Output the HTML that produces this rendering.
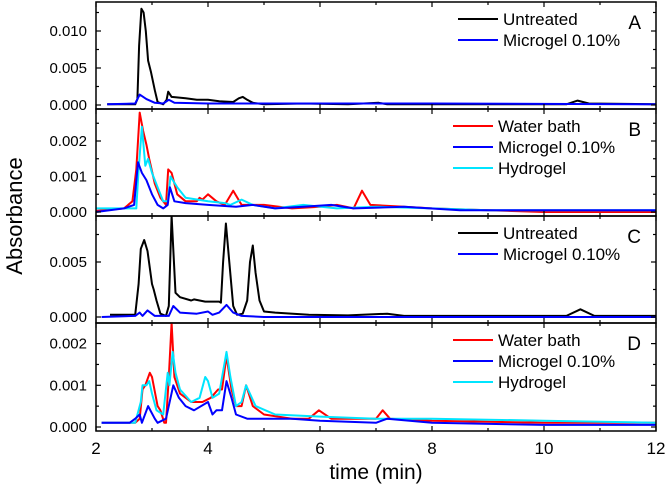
<!DOCTYPE html>
<html><head><meta charset="utf-8"><style>
body{margin:0;background:#fff;font-family:"Liberation Sans",Arial,sans-serif}
svg text{font-family:"Liberation Sans",Arial,sans-serif}
</style></head><body>
<svg id="c" width="666" height="488" viewBox="0 0 666 488"></svg>
<script>
const xTicks=[2,4,6,8,10,12];
const aUntreated=[[2.2,0.0001],[2.7,0.0001],[2.74,0.0008],[2.77,0.008],[2.81,0.013],[2.85,0.0125],[2.89,0.010],[2.93,0.006],[2.98,0.0045],[3.05,0.002],[3.1,0.0004],[3.2,0.0001],[3.26,0.0007],[3.29,0.0018],[3.35,0.0011],[3.6,0.0009],[3.8,0.0007],[4.0,0.0007],[4.2,0.0005],[4.45,0.0004],[4.55,0.0009],[4.62,0.0011],[4.7,0.0007],[4.8,0.0003],[5.0,0.0001],[5.7,0.0002],[6.5,0.0001],[7.05,0.0003],[7.2,0.0001],[10.4,0.0001],[10.6,0.0006],[10.8,0.0002],[12,0.0001]];
const aMicrogel=[[2.2,0.0001],[2.7,0.0002],[2.78,0.0014],[2.9,0.0008],[3.05,0.0003],[3.2,0.0002],[3.3,0.0007],[3.4,0.0003],[4.0,0.0002],[8,0.0002],[12,0.0001]];
const bWater=[[2,0.00003],[2.5,0.0001],[2.65,0.0003],[2.72,0.0012],[2.78,0.0028],[2.84,0.0023],[2.9,0.0019],[2.95,0.0015],[3.05,0.0008],[3.15,0.0004],[3.25,0.0002],[3.29,0.0012],[3.35,0.0011],[3.45,0.0005],[3.6,0.0003],[3.8,0.0003],[3.85,0.0004],[3.9,0.00035],[4.0,0.0005],[4.15,0.0003],[4.3,0.0002],[4.45,0.0006],[4.6,0.0002],[5.0,0.0002],[5.5,0.0001],[6.0,0.00015],[6.3,0.0002],[6.6,0.0001],[6.75,0.0006],[6.9,0.0002],[7.5,0.00015],[8,0.0001],[9,0.00005],[10,0.0],[12,0.0]];
const bMicrogel=[[2,0.0],[2.5,0.0001],[2.68,0.0002],[2.75,0.0014],[2.82,0.0011],[2.9,0.0009],[3.0,0.0005],[3.1,0.0002],[3.2,0.0001],[3.28,0.0002],[3.32,0.0007],[3.4,0.0003],[3.6,0.00025],[4.0,0.0002],[4.5,0.00015],[4.8,0.0002],[5.2,0.0001],[5.7,0.00015],[6.2,0.0002],[6.6,0.0001],[7.5,0.00015],[8.5,0.00005],[12,0.00005]];
const bHydrogel=[[2,0.0001],[2.6,0.0001],[2.72,0.0001],[2.76,0.0012],[2.82,0.0024],[2.88,0.0013],[2.93,0.0015],[3.0,0.0011],[3.1,0.0007],[3.2,0.0003],[3.28,0.0003],[3.33,0.0010],[3.45,0.0007],[3.6,0.0004],[4.0,0.0003],[4.3,0.00025],[4.4,0.0002],[4.6,0.00035],[4.8,0.0002],[5.2,0.0001],[5.7,0.0002],[6.3,0.0001],[7,0.00015],[8,0.0001],[9,0.00005],[12,0.00005]];
const cUntreated=[[2.25,0.0002],[2.7,0.0002],[2.76,0.003],[2.8,0.0062],[2.86,0.0070],[2.92,0.006],[3.0,0.003],[3.03,0.0025],[3.08,0.0015],[3.15,0.0003],[3.25,0.0001],[3.3,0.001],[3.35,0.0092],[3.42,0.0022],[3.5,0.0018],[3.7,0.0015],[3.75,0.0016],[3.95,0.0014],[4.2,0.0014],[4.23,0.0013],[4.27,0.005],[4.32,0.0085],[4.38,0.0050],[4.45,0.0010],[4.52,0.0002],[4.62,0.0003],[4.7,0.0015],[4.75,0.005],[4.8,0.0065],[4.85,0.004],[4.92,0.0015],[5.0,0.0005],[5.2,0.0004],[5.8,0.0002],[6.5,0.00015],[7.2,0.0003],[7.5,0.0001],[10.4,0.0001],[10.65,0.0007],[10.9,0.0001],[12,0.0001]];
const cMicrogel=[[2.1,0.0],[2.7,0.0001],[2.78,0.0004],[2.83,0.0001],[2.92,0.0006],[3.05,0.0001],[3.3,0.0001],[3.38,0.0010],[3.5,0.0004],[3.8,0.0003],[4.0,0.0005],[4.08,0.0002],[4.2,0.0004],[4.33,0.0011],[4.45,0.0004],[4.6,0.0001],[5,0.0],[12,0.0]];
const dWater=[[2.1,0.0001],[2.7,0.0001],[2.78,0.0002],[2.83,0.0009],[2.88,0.0010],[2.96,0.0013],[3.0,0.0012],[3.1,0.0005],[3.15,0.0004],[3.22,0.0001],[3.25,0.0001],[3.3,0.0012],[3.35,0.0025],[3.4,0.0012],[3.5,0.0008],[3.7,0.0006],[3.9,0.0006],[4.05,0.0007],[4.18,0.0009],[4.25,0.0009],[4.33,0.0017],[4.42,0.0009],[4.5,0.0005],[4.6,0.0005],[4.68,0.0010],[4.8,0.0005],[5.0,0.0003],[5.5,0.0002],[5.8,0.0002],[5.98,0.0004],[6.2,0.0002],[6.8,0.0002],[7.0,0.0002],[7.12,0.0004],[7.25,0.0002],[8,0.00015],[10,0.0001],[12,0.0001]];
const dMicrogel=[[2.1,0.0001],[2.6,0.0001],[2.7,0.0002],[2.78,0.0003],[2.82,0.0001],[2.93,0.0005],[3.05,0.0002],[3.1,0.0001],[3.25,0.0002],[3.38,0.0010],[3.48,0.0007],[3.6,0.0005],[3.75,0.0004],[4.0,0.0006],[4.08,0.0003],[4.15,0.0004],[4.25,0.0004],[4.33,0.0011],[4.42,0.0007],[4.5,0.0003],[4.7,0.0002],[5.5,0.0002],[6,0.00015],[7,0.0001],[7.2,0.0002],[8,0.0001],[10,0.00005],[12,0.00005]];
const dHydrogel=[[2.1,0.0001],[2.7,0.0001],[2.8,0.0006],[2.83,0.0010],[2.9,0.0010],[2.95,0.0011],[3.0,0.0008],[3.08,0.0004],[3.2,0.0003],[3.28,0.0013],[3.31,0.0010],[3.37,0.0018],[3.42,0.0013],[3.5,0.0009],[3.7,0.0006],[3.85,0.0007],[3.95,0.0012],[4.0,0.0011],[4.08,0.0007],[4.2,0.0008],[4.33,0.0018],[4.4,0.0012],[4.5,0.0005],[4.6,0.0006],[4.68,0.0010],[4.85,0.0005],[5.2,0.0003],[6,0.00025],[7,0.0002],[8,0.0002],[10,0.00015],[12,0.0001]];
const panels=[
 {id:'a',top:2,bot:109,y0:105,scale:7400,ticks:[0,0.005,0.010],labels:['0.000','0.005','0.010'],minor:0.0025,letter:'A',
  series:[['untreated',aUntreated,'#000','Untreated'],['microgel',aMicrogel,'#0000ff','Microgel 0.10%']]},
 {id:'b',top:109,bot:216,y0:212,scale:35500,ticks:[0,0.001,0.002],labels:['0.000','0.001','0.002'],minor:0.0005,letter:'B',
  series:[['water-bath',bWater,'#ff0000','Water bath'],['hydrogel',bHydrogel,'#00e5ff','Hydrogel'],['microgel',bMicrogel,'#0000ff','Microgel 0.10%']],
  legendOrder:[0,2,1]},
 {id:'c',top:216,bot:323,y0:317,scale:11000,ticks:[0,0.005],labels:['0.000','0.005'],minor:0.0025,letter:'C',
  series:[['untreated',cUntreated,'#000','Untreated'],['microgel',cMicrogel,'#0000ff','Microgel 0.10%']]},
 {id:'d',top:323,bot:431,y0:427,scale:41700,ticks:[0,0.001,0.002],labels:['0.000','0.001','0.002'],minor:0.0005,letter:'D',
  series:[['water-bath',dWater,'#ff0000','Water bath'],['hydrogel',dHydrogel,'#00e5ff','Hydrogel'],['microgel',dMicrogel,'#0000ff','Microgel 0.10%']],
  legendOrder:[0,2,1]}
];
const NS='http://www.w3.org/2000/svg';
const svg=document.getElementById('c');
const L=96,R=656;
function X(t){return L+(t-2)*(R-L)/10;}
function mk(tag,at,parent){const e=document.createElementNS(NS,tag);for(const k in at)e.setAttribute(k,at[k]);(parent||svg).appendChild(e);return e;}
const defs=mk('defs',{});
panels.forEach(p=>{
  const Y=v=>p.y0-v*p.scale;
  const g=mk('g',{});
  
  
  const cp=mk('clipPath',{id:'clip'+p.id},defs);
  mk('rect',{x:L,y:p.top,width:R-L,height:p.bot-p.top},cp);
  p.series.forEach(s=>{
    const d=s[1].map((pt,i)=>(i?'L':'M')+X(pt[0]).toFixed(1)+' '+Y(pt[1]).toFixed(1)).join(' ');
    const path=mk('path',{d:d,fill:'none',stroke:s[2],'stroke-width':2,'stroke-linejoin':'round','clip-path':'url(#clip'+p.id+')'},g);
    
    
  });
  const fr=mk('rect',{x:L,y:p.top,width:R-L,height:p.bot-p.top,fill:'none',stroke:'#000','stroke-width':1.5},g);
  
  
  const maxV=(p.y0-p.top)/p.scale;
  for(let v=0;v<=maxV+1e-9;v+=p.minor){
    const major=p.ticks.some(t=>Math.abs(t-v)<1e-9);const len=major?5:3;const y=Y(v);
    mk('line',{x1:L,y1:y,x2:L+len,y2:y,stroke:'#000','stroke-width':1.2},g);
    mk('line',{x1:R,y1:y,x2:R-len,y2:y,stroke:'#000','stroke-width':1.2},g);
  }
  p.ticks.forEach((t,i)=>{
    const tx=mk('text',{x:87,y:Y(t)+5,'text-anchor':'end','font-size':15,fill:'#000'},g);
    tx.textContent=p.labels[i];
    
    
  });
  for(let t=2;t<=12;t++){
    const major=t%2===0;const len=major?5:3;
    mk('line',{x1:X(t),y1:p.bot,x2:X(t),y2:p.bot-len,stroke:'#000','stroke-width':1.2},g);
    mk('line',{x1:X(t),y1:p.top,x2:X(t),y2:p.top+len,stroke:'#000','stroke-width':1.2},g);
  }
  const order=p.legendOrder||p.series.map((_,i)=>i);
  const lx=p.series.length===2?458:453;
  order.forEach((si,k)=>{
    const s=p.series[si];const ly=p.top+17+k*21;
    const lg=mk('g',{},g);
    
    
    mk('line',{x1:lx,y1:ly,x2:lx+40,y2:ly,stroke:s[2],'stroke-width':2},lg);
    const tt=mk('text',{x:lx+45,y:ly+6,'font-size':17,fill:'#000'},lg);
    tt.textContent=s[3];
  });
  const lt=mk('text',{x:641,y:p.top+27,'text-anchor':'end','font-size':19,fill:'#000'},g);
  lt.textContent=p.letter;
  
  
});
xTicks.forEach(t=>{
  const tx=mk('text',{x:X(t),y:454,'text-anchor':'middle','font-size':17,fill:'#000'});
  tx.textContent=t;
  
  
});
const xt=mk('text',{x:376,y:479,'text-anchor':'middle','font-size':21,fill:'#000'});
xt.textContent='time (min)';


const yt=mk('text',{x:0,y:0,'text-anchor':'middle','font-size':22,fill:'#000',transform:'translate(22,216) rotate(-90)'});
yt.textContent='Absorbance';


</script>
</body></html>
